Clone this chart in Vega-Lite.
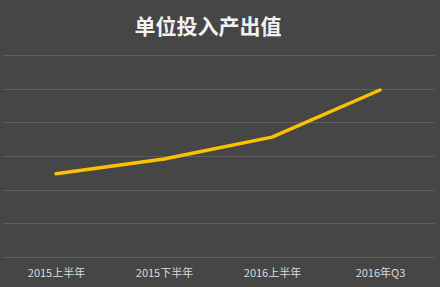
{
  "$schema": "https://vega.github.io/schema/vega-lite/v6.json",
  "width": 432,
  "height": 202,
  "autosize": {"type": "none"},
  "padding": {"left": 2, "top": 55, "right": 6, "bottom": 30},
  "background": "#464646",
  "title": {
    "text": "单位投入产出值",
    "font": "Noto Sans CJK SC",
    "fontSize": 21,
    "fontWeight": "bold",
    "color": "#f2f2f2",
    "anchor": "middle",
    "dx": -10,
    "offset": 17
  },
  "config": {
    "view": {"stroke": null},
    "axis": {"labelFont": "Noto Sans CJK SC"}
  },
  "data": {
    "values": [
      {"period": "2015上半年", "value": 2.47},
      {"period": "2015下半年", "value": 2.91},
      {"period": "2016上半年", "value": 3.56},
      {"period": "2016年Q3", "value": 4.96}
    ]
  },
  "mark": {"type": "line", "color": "#FFC000", "strokeWidth": 3.5, "strokeCap": "round", "strokeJoin": "round"},
  "encoding": {
    "x": {
      "field": "period",
      "type": "ordinal",
      "sort": null,
      "scale": {"paddingInner": 0, "paddingOuter": 0},
      "axis": {
        "title": null,
        "labelAngle": 0,
        "labelColor": "#d9d9d9",
        "labelFontSize": 11,
        "labelPadding": 10,
        "domain": false,
        "ticks": false,
        "grid": false
      }
    },
    "y": {
      "field": "value",
      "type": "quantitative",
      "scale": {"domain": [0, 6], "nice": false},
      "axis": {
        "title": null,
        "labels": false,
        "ticks": false,
        "domain": false,
        "values": [0, 1, 2, 3, 4, 5, 6],
        "grid": true,
        "gridColor": "#5e5e5e",
        "gridWidth": 1
      }
    }
  }
}
